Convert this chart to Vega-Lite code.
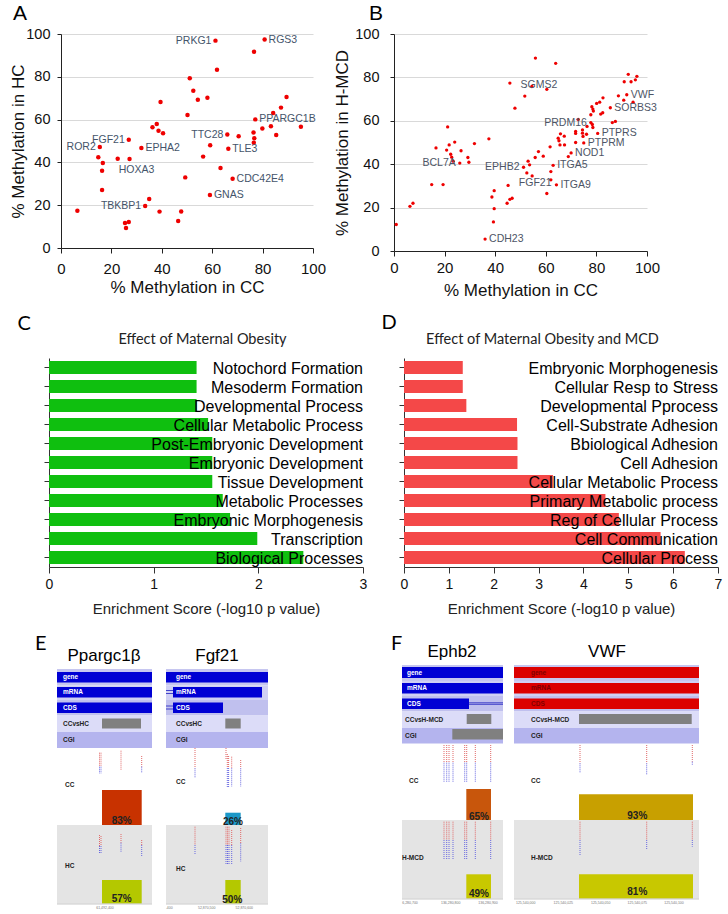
{
  "$schema": "https://vega.github.io/schema/vega-lite/v6.json",
  "background": "white",
  "padding": {"left": 9, "top": 3, "right": 0, "bottom": 0},
  "spacing": 324,
  "bounds": "flush",
  "config": {
    "view": {"stroke": null},
    "font": "Liberation Sans",
    "axis": {"labelFont": "Liberation Sans", "titleFont": "Liberation Sans"}
  },
  "datasets": {
    "scatterA": [
      {"x":6.5,"y":17.4},{"x":15.4,"y":47.2,"g":"ROR2","s":"left"},{"x":14.8,"y":42.4},{"x":16.6,"y":39.7},{"x":16.3,"y":36.1},{"x":16.3,"y":27.1},
      {"x":26.9,"y":50.6,"g":"FGF21","s":"left"},{"x":22.5,"y":41.7},{"x":27.2,"y":41.6,"g":"HOXA3","s":"below"},{"x":31.9,"y":46.7,"g":"EPHA2","s":"right"},
      {"x":25.4,"y":11.7},{"x":26.9,"y":12.1},{"x":25.8,"y":9.3},{"x":33.4,"y":19.6,"g":"TBKBP1","s":"left"},{"x":35.0,"y":22.9},{"x":39.1,"y":17.0},
      {"x":47.7,"y":17.1},{"x":46.5,"y":12.6},{"x":49.3,"y":33.0},{"x":36.3,"y":56.4},{"x":38.0,"y":57.9},{"x":38.7,"y":54.8},{"x":40.5,"y":53.6},
      {"x":39.5,"y":68.2},{"x":50.2,"y":62.1},{"x":51.1,"y":79.3},{"x":52.5,"y":73.5},{"x":54.3,"y":69.3},{"x":58.1,"y":70.2},{"x":56.4,"y":42.7},
      {"x":59.2,"y":48.0},{"x":59.1,"y":24.8,"g":"GNAS","s":"right"},{"x":63.3,"y":37.4},{"x":68.1,"y":32.4,"g":"CDC42E4","s":"right"},
      {"x":66.4,"y":46.4,"g":"TLE3","s":"right"},{"x":66.0,"y":53.0,"g":"TTC28","s":"left"},{"x":70.5,"y":52.2},{"x":61.3,"y":96.9,"g":"PRKG1","s":"left"},
      {"x":61.9,"y":83.3},{"x":80.8,"y":97.4,"g":"RGS3","s":"right"},{"x":76.6,"y":91.7},{"x":77.1,"y":60.1,"g":"PPARGC1B","s":"right"},
      {"x":76.4,"y":54.0},{"x":76.7,"y":51.3},{"x":76.5,"y":49.2},{"x":79.9,"y":55.8},{"x":83.3,"y":56.9},{"x":84.2,"y":63.1},{"x":87.3,"y":65.6},
      {"x":89.5,"y":70.6},{"x":85.4,"y":52.8},{"x":95.2,"y":56.7}
    ],
    "scatterB": [
      {"x":0.9,"y":12.2},{"x":6.3,"y":20.6},{"x":7.5,"y":22.0},{"x":14.9,"y":30.6},{"x":19.4,"y":30.6},{"x":16.6,"y":47.5},{"x":21.2,"y":57.2},
      {"x":20.8,"y":46.5},{"x":21.8,"y":48.9},{"x":24.0,"y":50.2},{"x":22.4,"y":44.6},{"x":22.8,"y":43.2},{"x":23.4,"y":41.4},
      {"x":26.0,"y":40.5,"g":"BCL7A","s":"left"},{"x":26.5,"y":46.2},{"x":29.2,"y":43.1},{"x":29.6,"y":40.9},{"x":31.8,"y":49.5},{"x":37.5,"y":51.7},
      {"x":45.8,"y":77.4},{"x":47.8,"y":65.8},{"x":51.7,"y":71.4},{"x":54.5,"y":75.8,"g":"SGMS2","s":"center"},{"x":60.4,"y":74.5},{"x":55.9,"y":88.9},
      {"x":63.9,"y":86.5},{"x":38.7,"y":24.9},{"x":39.6,"y":27.8},{"x":39.6,"y":19.5},{"x":39.3,"y":13.4},{"x":36.0,"y":5.5,"g":"CDH23","s":"right"},
      {"x":45.1,"y":30.2},{"x":44.7,"y":22.0},{"x":45.8,"y":23.8},{"x":46.7,"y":24.3},{"x":51.2,"y":38.6,"g":"EPHB2","s":"left"},{"x":53.0,"y":41.4},
      {"x":53.6,"y":39.7},{"x":52.5,"y":36.0},{"x":54.6,"y":34.6,"g":"FGF21","s":"below"},{"x":55.8,"y":43.1},{"x":57.1,"y":45.8},{"x":59.0,"y":43.7},
      {"x":61.7,"y":48.0},{"x":62.9,"y":39.5,"g":"ITGA5","s":"right"},{"x":62.0,"y":36.6},{"x":62.0,"y":32.8},{"x":64.2,"y":30.5,"g":"ITGA9","s":"right"},
      {"x":60.4,"y":26.5},{"x":64.9,"y":52.0},{"x":65.2,"y":50.8},{"x":65.8,"y":54.0},{"x":67.3,"y":52.9},{"x":65.6,"y":48.9},{"x":67.4,"y":48.9},
      {"x":68.9,"y":43.5},{"x":70.0,"y":45.2,"g":"NOD1","s":"right"},{"x":71.8,"y":55.1},{"x":71.8,"y":54.2},{"x":71.8,"y":50.0},{"x":72.8,"y":60.6},
      {"x":74.5,"y":55.8},{"x":74.5,"y":54.3},{"x":74.7,"y":52.8},{"x":75.0,"y":49.8,"g":"PTPRM","s":"right"},{"x":76.1,"y":53.8},{"x":76.3,"y":57.4},
      {"x":77.8,"y":59.2,"g":"PRDM16","s":"left"},{"x":78.4,"y":58.3},{"x":78.6,"y":56.9},{"x":80.5,"y":54.2,"g":"PTPRS","s":"right"},{"x":77.8,"y":62.8},
      {"x":78.2,"y":66.5},{"x":78.6,"y":65.4},{"x":78.8,"y":64.5},{"x":80.1,"y":68.0},{"x":81.3,"y":68.6},{"x":82.6,"y":70.6},{"x":81.7,"y":63.1},
      {"x":82.5,"y":63.7},{"x":85.5,"y":66.0,"g":"SORBS3","s":"right"},{"x":86.3,"y":59.2},{"x":87.5,"y":59.7},{"x":88.7,"y":71.5},{"x":90.8,"y":69.5},
      {"x":92.0,"y":72.0,"g":"VWF","s":"right"},{"x":94.5,"y":68.6},{"x":91.0,"y":78.0},{"x":92.6,"y":81.4},{"x":93.7,"y":78.0},{"x":95.4,"y":78.9},{"x":96.0,"y":80.5}
    ],
    "barsC": [
      {"t":"Notochord Formation","v":1.41},{"t":"Mesoderm Formation","v":1.41},{"t":"Developmental Process","v":1.41},
      {"t":"Cellular Metabolic Process","v":1.52},{"t":"Post-Embryonic Development","v":1.56},{"t":"Embryonic Development","v":1.56},
      {"t":"Tissue Development","v":1.56},{"t":"Metabolic Processes","v":1.66},{"t":"Embryonic Morphogenesis","v":1.73},
      {"t":"Transcription","v":1.99},{"t":"Biological Processes","v":2.43}
    ],
    "barsD": [
      {"t":"Embryonic Morphogenesis","v":1.31},{"t":"Cellular Resp to Stress","v":1.31},{"t":"Developmental Pprocess","v":1.39},
      {"t":"Cell-Substrate Adhesion","v":2.52},{"t":"Bbiological Adhesion","v":2.53},{"t":"Cell Adhesion","v":2.53},
      {"t":"Cellular Metabolic Process","v":3.32},{"t":"Primary Metabolic process","v":4.49},{"t":"Reg of Cellular Process","v":4.79},
      {"t":"Cell Communication","v":5.72},{"t":"Cellular Process","v":6.26}
    ],
    "efRects": [
      {"x":57,"x2":152,"y":669,"y2":685.5,"k":"bgGene"},{"x":57,"x2":152,"y":685.5,"y2":700,"k":"bgMrna"},{"x":57,"x2":152,"y":700,"y2":715.5,"k":"bgCds"},
      {"x":57,"x2":152,"y":715.5,"y2":732,"k":"bgCmp"},{"x":57,"x2":152,"y":732,"y2":748,"k":"bgCgi"},
      {"x":166,"x2":268,"y":669,"y2":685.5,"k":"bgGene"},{"x":166,"x2":268,"y":685.5,"y2":700,"k":"bgMrna"},{"x":166,"x2":268,"y":700,"y2":715.5,"k":"bgCds"},
      {"x":166,"x2":268,"y":715.5,"y2":732,"k":"bgCmp"},{"x":166,"x2":268,"y":732,"y2":748,"k":"bgCgi"},
      {"x":402,"x2":503,"y":665,"y2":681,"k":"bgGene"},{"x":402,"x2":503,"y":681,"y2":696,"k":"bgMrna"},{"x":402,"x2":503,"y":696,"y2":711.5,"k":"bgCds"},
      {"x":402,"x2":503,"y":711.5,"y2":728,"k":"bgCmp"},{"x":402,"x2":503,"y":728,"y2":743.5,"k":"bgCgi"},
      {"x":514,"x2":699,"y":665,"y2":681,"k":"bgGene"},{"x":514,"x2":699,"y":681,"y2":696,"k":"bgMrna"},{"x":514,"x2":699,"y":696,"y2":711.5,"k":"bgCds"},
      {"x":514,"x2":699,"y":711.5,"y2":728,"k":"bgCmp"},{"x":514,"x2":699,"y":728,"y2":743.5,"k":"bgCgi"},
      {"x":57,"x2":152,"y":672,"y2":682.5,"k":"blue"},{"x":57,"x2":152,"y":687,"y2":697.5,"k":"blue"},{"x":57,"x2":152,"y":702.5,"y2":713,"k":"blue"},
      {"x":102,"x2":141,"y":718.5,"y2":728.5,"k":"gray"},
      {"x":166,"x2":268,"y":672,"y2":682.5,"k":"blue"},{"x":173,"x2":262,"y":687,"y2":697.5,"k":"blue"},{"x":173,"x2":223,"y":702.5,"y2":713,"k":"blue"},
      {"x":225.3,"x2":240.7,"y":718.5,"y2":728.5,"k":"gray"},
      {"x":402,"x2":503,"y":667,"y2":678,"k":"blue"},{"x":402,"x2":503,"y":683,"y2":693.5,"k":"blue"},{"x":402,"x2":469,"y":698.5,"y2":709,"k":"blue"},
      {"x":466.7,"x2":491.3,"y":714,"y2":724,"k":"gray"},{"x":452.3,"x2":503,"y":729,"y2":739.5,"k":"gray"},
      {"x":514,"x2":699,"y":667,"y2":678,"k":"red"},{"x":514,"x2":699,"y":683,"y2":693.5,"k":"red"},{"x":514,"x2":699,"y":698.5,"y2":709,"k":"red"},
      {"x":579,"x2":691.7,"y":714,"y2":724,"k":"gray"},
      {"x":57,"x2":152,"y":825,"y2":903.5,"k":"hcbg"},{"x":166,"x2":268,"y":825,"y2":903.5,"k":"hcbg"},
      {"x":402,"x2":503,"y":820,"y2":898.5,"k":"hcbg"},{"x":514,"x2":699,"y":820,"y2":898.5,"k":"hcbg"},
      {"x":102,"x2":141.7,"y":790,"y2":825,"k":"ccRed"},{"x":102,"x2":141.7,"y":880,"y2":903.5,"k":"yg"},
      {"x":225.3,"x2":240.7,"y":812.7,"y2":825,"k":"teal"},{"x":225.3,"x2":240.7,"y":880,"y2":903.5,"k":"yg"},
      {"x":466.3,"x2":491,"y":789,"y2":820,"k":"orange"},{"x":466.3,"x2":491,"y":874.3,"y2":898.5,"k":"yellow"},
      {"x":579,"x2":693,"y":794.3,"y2":820,"k":"gold"},{"x":579,"x2":693,"y":874.3,"y2":898.5,"k":"yellow"}
    ],
    "efLines": [
      {"x":166,"x2":173,"y":690.5,"k":"intron"},{"x":166,"x2":173,"y":693.5,"k":"intron"},
      {"x":166,"x2":173,"y":706,"k":"intron"},{"x":166,"x2":173,"y":709,"k":"intron"},
      {"x":469,"x2":503,"y":702.8,"k":"intron"},{"x":469,"x2":503,"y":704.3,"k":"intron"},
      {"x":57,"x2":152,"y":904,"k":"axis"},{"x":166,"x2":268,"y":904,"k":"axis"},
      {"x":402,"x2":503,"y":899,"k":"axis"},{"x":514,"x2":699,"y":899,"k":"axis"}
    ],
    "efTicks": [
      {"x":99.5,"y":752.7,"y2":766.7,"k":"m"},{"x":99.5,"y":766.7,"y2":773.3,"k":"u"},
      {"x":101,"y":752.7,"y2":766.7,"k":"m"},{"x":101,"y":766.7,"y2":773.3,"k":"u"},
      {"x":121,"y":750.7,"y2":770.7,"k":"m"},
      {"x":141.7,"y":756,"y2":766.7,"k":"m"},{"x":141.7,"y":766.7,"y2":773,"k":"u"},
      {"x":99.5,"y":835,"y2":846,"k":"m"},{"x":99.5,"y":846,"y2":853.3,"k":"u"},
      {"x":101,"y":836,"y2":846,"k":"m"},{"x":101,"y":846,"y2":853,"k":"u"},
      {"x":121,"y":834,"y2":842.7,"k":"m"},{"x":121,"y":842.7,"y2":851.7,"k":"u"},
      {"x":141.7,"y":840,"y2":845,"k":"m"},{"x":141.7,"y":845,"y2":856,"k":"u"},
      {"x":195,"y":748,"y2":768.3,"k":"m"},{"x":195,"y":768.3,"y2":777.3,"k":"u"},
      {"x":226,"y":748,"y2":760,"k":"m"},
      {"x":227.3,"y":754,"y2":768,"k":"m"},{"x":227.3,"y":768,"y2":787,"k":"u"},
      {"x":228.6,"y":756,"y2":768,"k":"m"},{"x":228.6,"y":768,"y2":787,"k":"u"},
      {"x":231.7,"y":756.7,"y2":768.3,"k":"m"},{"x":231.7,"y":768.3,"y2":786.7,"k":"u"},
      {"x":240.7,"y":760,"y2":768.3,"k":"m"},{"x":240.7,"y":768.3,"y2":786.7,"k":"u"},
      {"x":195,"y":826.7,"y2":845,"k":"m"},{"x":195,"y":845,"y2":855,"k":"u"},
      {"x":226,"y":826.7,"y2":845,"k":"m"},{"x":226,"y":845,"y2":864,"k":"u"},
      {"x":227.5,"y":826.7,"y2":845,"k":"m"},{"x":227.5,"y":845,"y2":864,"k":"u"},
      {"x":229,"y":826.7,"y2":845,"k":"m"},{"x":229,"y":845,"y2":864,"k":"u"},
      {"x":231.7,"y":830,"y2":845,"k":"m"},{"x":231.7,"y":845,"y2":864,"k":"u"},
      {"x":240.7,"y":828,"y2":843.3,"k":"m"},{"x":240.7,"y":843.3,"y2":861.7,"k":"u"},
      {"x":444,"y":745,"y2":762.7,"k":"m"},{"x":444,"y":762.7,"y2":781.7,"k":"u"},
      {"x":446.7,"y":745,"y2":762.7,"k":"m"},{"x":446.7,"y":762.7,"y2":781.7,"k":"u"},
      {"x":449,"y":745,"y2":762.7,"k":"m"},{"x":449,"y":762.7,"y2":781.7,"k":"u"},
      {"x":453,"y":745,"y2":762.7,"k":"m"},{"x":453,"y":762.7,"y2":781.7,"k":"u"},
      {"x":464.7,"y":745,"y2":762.7,"k":"m"},{"x":464.7,"y":762.7,"y2":781.7,"k":"u"},
      {"x":466.7,"y":745,"y2":762.7,"k":"m"},{"x":466.7,"y":762.7,"y2":781.7,"k":"u"},
      {"x":475.3,"y":745,"y2":762.7,"k":"m"},{"x":475.3,"y":762.7,"y2":781.7,"k":"u"},
      {"x":490.7,"y":745,"y2":762.7,"k":"m"},{"x":490.7,"y":762.7,"y2":781.7,"k":"u"},
      {"x":444,"y":821.7,"y2":840,"k":"m"},{"x":444,"y":840,"y2":859,"k":"u"},
      {"x":446.7,"y":821.7,"y2":840,"k":"m"},{"x":446.7,"y":840,"y2":859,"k":"u"},
      {"x":449,"y":821.7,"y2":840,"k":"m"},{"x":449,"y":840,"y2":859,"k":"u"},
      {"x":453,"y":821.7,"y2":840,"k":"m"},{"x":453,"y":840,"y2":859,"k":"u"},
      {"x":464.7,"y":821.7,"y2":840,"k":"m"},{"x":464.7,"y":840,"y2":859,"k":"u"},
      {"x":466.7,"y":821.7,"y2":840,"k":"m"},{"x":466.7,"y":840,"y2":859,"k":"u"},
      {"x":475.3,"y":821.7,"y2":840,"k":"m"},{"x":475.3,"y":840,"y2":859,"k":"u"},
      {"x":490.7,"y":821.7,"y2":840,"k":"m"},{"x":490.7,"y":840,"y2":859,"k":"u"},
      {"x":580,"y":745,"y2":763.3,"k":"m"},{"x":580,"y":763.3,"y2":773.3,"k":"u"},
      {"x":646.7,"y":745,"y2":763.3,"k":"m"},{"x":646.7,"y":763.3,"y2":775,"k":"u"},
      {"x":692.3,"y":745,"y2":761.7,"k":"m"},{"x":692.3,"y":761.7,"y2":765,"k":"u"},
      {"x":580,"y":821.7,"y2":840,"k":"m"},{"x":580,"y":840,"y2":855.7,"k":"u"},
      {"x":646.7,"y":821.7,"y2":840,"k":"m"},{"x":646.7,"y":840,"y2":850,"k":"u"},
      {"x":692.3,"y":821.7,"y2":840,"k":"m"},{"x":692.3,"y":840,"y2":846.7,"k":"u"}
    ],
    "efTexts": [
      {"t":"E","x":35,"y":650,"r":"letter"},{"t":"F","x":391,"y":650,"r":"letter"},
      {"t":"Ppargc1β","x":104,"y":661,"r":"gtitle"},{"t":"Fgf21","x":217,"y":661,"r":"gtitle"},
      {"t":"Ephb2","x":452,"y":657,"r":"gtitle"},{"t":"VWF","x":607,"y":657,"r":"gtitle"},
      {"t":"gene","x":63,"y":677,"r":"trackw"},{"t":"mRNA","x":63,"y":692,"r":"trackw"},{"t":"CDS","x":63,"y":707.5,"r":"trackw"},
      {"t":"gene","x":176,"y":677,"r":"trackw"},{"t":"mRNA","x":176,"y":692,"r":"trackw"},{"t":"CDS","x":176,"y":707.5,"r":"trackw"},
      {"t":"gene","x":407,"y":672.5,"r":"trackw"},{"t":"mRNA","x":407,"y":688,"r":"trackw"},{"t":"CDS","x":407,"y":703.5,"r":"trackw"},
      {"t":"gene","x":531,"y":672.5,"r":"trackr"},{"t":"mRNA","x":531,"y":688,"r":"trackr"},{"t":"CDS","x":531,"y":703.5,"r":"trackr"},
      {"t":"CCvsHC","x":63,"y":724,"r":"trackd"},{"t":"CGI","x":63,"y":740,"r":"trackd"},
      {"t":"CCvsHC","x":176,"y":724,"r":"trackd"},{"t":"CGI","x":176,"y":740,"r":"trackd"},
      {"t":"CCvsH-MCD","x":405,"y":720,"r":"trackd"},{"t":"CGI","x":405,"y":736,"r":"trackd"},
      {"t":"CCvsH-MCD","x":531,"y":720,"r":"trackd"},{"t":"CGI","x":531,"y":736,"r":"trackd"},
      {"t":"CC","x":65,"y":785,"r":"trackd"},{"t":"HC","x":65,"y":866,"r":"trackd"},
      {"t":"CC","x":176,"y":782,"r":"trackd"},{"t":"HC","x":176,"y":869,"r":"trackd"},
      {"t":"CC","x":409,"y":781,"r":"trackd"},{"t":"H-MCD","x":402,"y":858,"r":"trackd"},
      {"t":"CC","x":531,"y":781,"r":"trackd"},{"t":"H-MCD","x":531,"y":858,"r":"trackd"},
      {"t":"83%","x":121.7,"y":823.5,"r":"pct"},{"t":"57%","x":121.7,"y":902,"r":"pct"},
      {"t":"26%","x":233,"y":824.5,"r":"pct"},{"t":"50%","x":232.3,"y":902.5,"r":"pct"},
      {"t":"65%","x":479,"y":819.5,"r":"pct"},{"t":"49%","x":479,"y":896.5,"r":"pct"},
      {"t":"93%","x":637.3,"y":818.5,"r":"pct"},{"t":"81%","x":637.3,"y":894.5,"r":"pct"},
      {"t":"61,492,400","x":105,"y":908.3,"r":"coord"},
      {"t":".400","x":169.3,"y":908.3,"r":"coord"},{"t":"52,870,500","x":206.7,"y":908.3,"r":"coord"},{"t":"52,870,600","x":244.3,"y":908.3,"r":"coord"},
      {"t":"6,280,700","x":410,"y":902.7,"r":"coord"},{"t":"136,280,800","x":450.7,"y":902.7,"r":"coord"},{"t":"136,280,900","x":488,"y":902.7,"r":"coord"},
      {"t":"125,540,000","x":525.7,"y":902.7,"r":"coord"},{"t":"125,540,025","x":563.3,"y":902.7,"r":"coord"},{"t":"125,540,050","x":600.7,"y":902.7,"r":"coord"},
      {"t":"125,540,075","x":637.3,"y":902.7,"r":"coord"},{"t":"125,540,100","x":674,"y":902.7,"r":"coord"}
    ]
  },
  "vconcat": [
    {
      "spacing": 11,
      "bounds": "flush",
      "hconcat": [
        {"width": 1, "height": 1, "data": {"values": [{"a": 1}]}, "mark": {"type": "point", "opacity": 0}},
        {
          "spacing": 81,
          "bounds": "flush",
          "hconcat": [
            {
              "width": 252, "height": 214,
              "title": {"text": "A", "anchor": "start", "frame": "group", "dx": -48, "offset": 2, "fontSize": 21, "fontWeight": "normal", "font": "Liberation Sans", "color": "#000"},
              "data": {"name": "scatterA"},
              "encoding": {
                "x": {"field": "x", "type": "quantitative", "scale": {"domain": [0, 100], "nice": false},
                  "axis": {"values": [0, 20, 40, 60, 80, 100], "title": "% Methylation in CC", "titleFontSize": 17, "titleFontWeight": "normal", "titleColor": "#111", "titlePadding": 3,
                    "labelFontSize": 15, "labelColor": "#111", "labelPadding": 8, "tickSize": 5, "tickColor": "#222", "domainColor": "#222", "grid": false, "labelFlush": false}},
                "y": {"field": "y", "type": "quantitative", "scale": {"domain": [0, 100], "nice": false},
                  "axis": {"values": [0, 20, 40, 60, 80, 100], "title": "% Methylation in HC", "titleFontSize": 17, "titleFontWeight": "normal", "titleColor": "#111", "titlePadding": -2,
                    "labelFontSize": 14.5, "labelColor": "#111", "labelPadding": 7, "tickSize": 4, "tickColor": "#222", "domainColor": "#222", "grid": true, "gridColor": "#d9d9d9", "labelFlush": false}}
              },
              "layer": [
                {"mark": {"type": "circle", "size": 20, "color": "#ee0000", "opacity": 1}},
                {"transform": [{"filter": "datum.s === 'left'"}], "mark": {"type": "text", "align": "right", "baseline": "middle", "dx": -4, "fontSize": 10.5, "color": "#44546a"}, "encoding": {"text": {"field": "g"}}},
                {"transform": [{"filter": "datum.s === 'right'"}], "mark": {"type": "text", "align": "left", "baseline": "middle", "dx": 4, "fontSize": 10.5, "color": "#44546a"}, "encoding": {"text": {"field": "g"}}},
                {"transform": [{"filter": "datum.s === 'below'"}], "mark": {"type": "text", "align": "center", "baseline": "middle", "dx": 7, "dy": 11, "fontSize": 10.5, "color": "#44546a"}, "encoding": {"text": {"field": "g"}}}
              ]
            },
            {
              "width": 253, "height": 217,
              "title": {"text": "B", "anchor": "start", "frame": "group", "dx": -25, "offset": 2, "fontSize": 21, "fontWeight": "normal", "font": "Liberation Sans", "color": "#000"},
              "data": {"name": "scatterB"},
              "encoding": {
                "x": {"field": "x", "type": "quantitative", "scale": {"domain": [0, 100], "nice": false},
                  "axis": {"values": [0, 20, 40, 60, 80, 100], "title": "% Methylation in CC", "titleFontSize": 17, "titleFontWeight": "normal", "titleColor": "#111", "titlePadding": 7,
                    "labelFontSize": 15, "labelColor": "#111", "labelPadding": 4, "tickSize": 5, "tickColor": "#222", "domainColor": "#222", "grid": false, "labelFlush": false}},
                "y": {"field": "y", "type": "quantitative", "scale": {"domain": [0, 100], "nice": false},
                  "axis": {"values": [0, 20, 40, 60, 80, 100], "title": "% Methylation in H-MCD", "titleFontSize": 17, "titleFontWeight": "normal", "titleColor": "#111", "titlePadding": 3,
                    "labelFontSize": 14.5, "labelColor": "#111", "labelPadding": 11, "tickSize": 4, "tickColor": "#222", "domainColor": "#222", "grid": true, "gridColor": "#d9d9d9", "labelFlush": false}}
              },
              "layer": [
                {"mark": {"type": "circle", "size": 11, "color": "#ee0000", "opacity": 1}},
                {"transform": [{"filter": "datum.s === 'left'"}], "mark": {"type": "text", "align": "right", "baseline": "middle", "dx": -4, "fontSize": 10.5, "color": "#4d5566"}, "encoding": {"text": {"field": "g"}}},
                {"transform": [{"filter": "datum.s === 'right'"}], "mark": {"type": "text", "align": "left", "baseline": "middle", "dx": 4, "fontSize": 10.5, "color": "#4d5566"}, "encoding": {"text": {"field": "g"}}},
                {"transform": [{"filter": "datum.s === 'below'"}], "mark": {"type": "text", "align": "center", "baseline": "middle", "dx": 3, "dy": 7, "fontSize": 10.5, "color": "#4d5566"}, "encoding": {"text": {"field": "g"}}},
                {"transform": [{"filter": "datum.s === 'center'"}], "mark": {"type": "text", "align": "center", "baseline": "middle", "dx": 7, "dy": -2, "fontSize": 10.5, "color": "#4d5566"}, "encoding": {"text": {"field": "g"}}}
              ]
            }
          ]
        }
      ]
    },
    {
      "spacing": 41,
      "bounds": "flush",
      "hconcat": [
        {
          "width": 314, "height": 209,
          "data": {"name": "barsC"},
          "resolve": {"axis": {"x": "independent"}},
          "encoding": {
            "y": {"field": "t", "type": "nominal", "sort": null, "scale": {"paddingInner": 0.32, "paddingOuter": 0.16},
              "axis": {"title": "C", "labels": false, "ticks": true, "tickSize": 5, "domainColor": "#333", "tickColor": "#333", "titleAngle": 0, "titleAlign": "left", "titleBaseline": "alphabetic", "titleX": -32, "titleY": -29, "titleFont": "Lato", "titleFontSize": 20, "titleFontWeight": "normal", "titleColor": "#000"}}
          },
          "layer": [
            {"mark": {"type": "bar", "color": "#0fbf0f"},
             "encoding": {"x": {"field": "v", "type": "quantitative", "scale": {"domain": [0, 3], "nice": false},
               "axis": {"values": [0, 1, 2, 3], "format": "d", "title": "Enrichment Score (-log10 p value)", "titleFontSize": 15, "titleFontWeight": "normal", "titleColor": "#222", "titlePadding": 10,
                 "labelFontSize": 14, "labelColor": "#111", "tickSize": 6, "labelPadding": 4, "domainColor": "#333", "tickColor": "#333", "grid": false, "labelFlush": false}}}},
            {"mark": {"type": "text", "align": "right", "baseline": "middle", "fontSize": 16, "color": "#000", "dy": 1},
             "encoding": {"x": {"datum": 3, "type": "quantitative",
               "axis": {"orient": "top", "title": "Effect of Maternal Obesity", "labels": false, "ticks": false, "domain": false, "grid": false, "titleFont": "Lato", "titleFontSize": 14.5, "titleFontWeight": "normal", "titleColor": "#222", "titleX": 153, "titleY": -19, "titleBaseline": "middle", "titleAlign": "center"}},
               "text": {"field": "t"}}}
          ]
        },
        {
          "width": 314, "height": 209,
          "data": {"name": "barsD"},
          "resolve": {"axis": {"x": "independent"}},
          "encoding": {
            "y": {"field": "t", "type": "nominal", "sort": null, "scale": {"paddingInner": 0.32, "paddingOuter": 0.16},
              "axis": {"title": "D", "labels": false, "ticks": true, "tickSize": 5, "domainColor": "#333", "tickColor": "#333", "titleAngle": 0, "titleAlign": "left", "titleBaseline": "alphabetic", "titleX": -23, "titleY": -30, "titleFont": "Lato", "titleFontSize": 20, "titleFontWeight": "normal", "titleColor": "#000"}}
          },
          "layer": [
            {"mark": {"type": "bar", "color": "#f44848"},
             "encoding": {"x": {"field": "v", "type": "quantitative", "scale": {"domain": [0, 7], "nice": false},
               "axis": {"values": [0, 1, 2, 3, 4, 5, 6, 7], "format": "d", "title": "Enrichment Score (-log10 p value)", "titleFontSize": 15, "titleFontWeight": "normal", "titleColor": "#222", "titlePadding": 10,
                 "labelFontSize": 14, "labelColor": "#111", "tickSize": 6, "labelPadding": 4, "domainColor": "#333", "tickColor": "#333", "grid": false, "labelFlush": false}}}},
            {"mark": {"type": "text", "align": "right", "baseline": "middle", "fontSize": 16, "color": "#000", "dy": 1},
             "encoding": {"x": {"datum": 7, "type": "quantitative",
               "axis": {"orient": "top", "title": "Effect of Maternal Obesity and MCD", "labels": false, "ticks": false, "domain": false, "grid": false, "titleFont": "Lato", "titleFontSize": 14.5, "titleFontWeight": "normal", "titleColor": "#222", "titleX": 138, "titleY": -19, "titleBaseline": "middle", "titleAlign": "center"}},
               "text": {"field": "t"}}}
          ]
        }
      ]
    },
    {
      "width": 679, "height": 232,
      "layer": [
        {"data": {"name": "efRects"}, "mark": {"type": "rect"},
         "encoding": {
           "x": {"field": "x", "type": "quantitative", "scale": {"domain": [49, 728], "nice": false, "zero": false}, "axis": null},
           "x2": {"field": "x2"},
           "y": {"field": "y", "type": "quantitative", "scale": {"domain": [682, 914], "nice": false, "zero": false, "reverse": true}, "axis": null},
           "y2": {"field": "y2"},
           "color": {"field": "k", "type": "nominal", "legend": null,
             "scale": {"domain": ["bgGene", "bgMrna", "bgCds", "bgCmp", "bgCgi", "blue", "red", "gray", "hcbg", "ccRed", "teal", "orange", "gold", "yg", "yellow"],
                       "range": ["#c6c6f0", "#d0d0f4", "#c0c0ee", "#dcdcf8", "#b4b4ee", "#0000d4", "#dc0000", "#808080", "#e4e4e4", "#c83200", "#1c98c8", "#c8560c", "#c8a000", "#b4c800", "#c8c800"]}}
         }},
        {"data": {"name": "efLines"}, "transform": [{"filter": "datum.k === 'intron'"}], "mark": {"type": "rule", "color": "#2020c0", "strokeWidth": 0.8},
         "encoding": {"x": {"field": "x", "type": "quantitative"}, "x2": {"field": "x2"}, "y": {"field": "y", "type": "quantitative"}}},
        {"data": {"name": "efLines"}, "transform": [{"filter": "datum.k === 'axis'"}], "mark": {"type": "rule", "color": "#bbbbbb", "strokeWidth": 0.8},
         "encoding": {"x": {"field": "x", "type": "quantitative"}, "x2": {"field": "x2"}, "y": {"field": "y", "type": "quantitative"}}},
        {"data": {"name": "efTicks"}, "transform": [{"filter": "datum.k === 'm'"}], "mark": {"type": "rule", "color": "#e06868", "strokeWidth": 1, "strokeDash": [1, 1]},
         "encoding": {"x": {"field": "x", "type": "quantitative"}, "y": {"field": "y", "type": "quantitative"}, "y2": {"field": "y2"}}},
        {"data": {"name": "efTicks"}, "transform": [{"filter": "datum.k === 'u'"}], "mark": {"type": "rule", "color": "#6868e0", "strokeWidth": 1, "strokeDash": [1, 1]},
         "encoding": {"x": {"field": "x", "type": "quantitative"}, "y": {"field": "y", "type": "quantitative"}, "y2": {"field": "y2"}}},
        {"data": {"name": "efTexts"}, "transform": [{"filter": "datum.r === 'letter'"}], "mark": {"type": "text", "font": "Lato", "fontSize": 20, "color": "#000", "align": "left", "baseline": "alphabetic"},
         "encoding": {"x": {"field": "x", "type": "quantitative"}, "y": {"field": "y", "type": "quantitative"}, "text": {"field": "t"}}},
        {"data": {"name": "efTexts"}, "transform": [{"filter": "datum.r === 'gtitle'"}], "mark": {"type": "text", "fontSize": 17, "color": "#000", "align": "center", "baseline": "alphabetic"},
         "encoding": {"x": {"field": "x", "type": "quantitative"}, "y": {"field": "y", "type": "quantitative"}, "text": {"field": "t"}}},
        {"data": {"name": "efTexts"}, "transform": [{"filter": "datum.r === 'trackw'"}], "mark": {"type": "text", "fontSize": 6.5, "fontWeight": "bold", "color": "#ffffff", "align": "left", "baseline": "middle"},
         "encoding": {"x": {"field": "x", "type": "quantitative"}, "y": {"field": "y", "type": "quantitative"}, "text": {"field": "t"}}},
        {"data": {"name": "efTexts"}, "transform": [{"filter": "datum.r === 'trackr'"}], "mark": {"type": "text", "fontSize": 6.5, "fontWeight": "bold", "color": "#800000", "align": "left", "baseline": "middle"},
         "encoding": {"x": {"field": "x", "type": "quantitative"}, "y": {"field": "y", "type": "quantitative"}, "text": {"field": "t"}}},
        {"data": {"name": "efTexts"}, "transform": [{"filter": "datum.r === 'trackd'"}], "mark": {"type": "text", "fontSize": 6.5, "fontWeight": "bold", "color": "#222222", "align": "left", "baseline": "middle"},
         "encoding": {"x": {"field": "x", "type": "quantitative"}, "y": {"field": "y", "type": "quantitative"}, "text": {"field": "t"}}},
        {"data": {"name": "efTexts"}, "transform": [{"filter": "datum.r === 'pct'"}], "mark": {"type": "text", "fontSize": 10, "fontWeight": "bold", "color": "#222222", "align": "center", "baseline": "alphabetic"},
         "encoding": {"x": {"field": "x", "type": "quantitative"}, "y": {"field": "y", "type": "quantitative"}, "text": {"field": "t"}}},
        {"data": {"name": "efTexts"}, "transform": [{"filter": "datum.r === 'coord'"}], "mark": {"type": "text", "fontSize": 3.5, "color": "#777777", "align": "center", "baseline": "middle"},
         "encoding": {"x": {"field": "x", "type": "quantitative"}, "y": {"field": "y", "type": "quantitative"}, "text": {"field": "t"}}}
      ]
    }
  ]
}
